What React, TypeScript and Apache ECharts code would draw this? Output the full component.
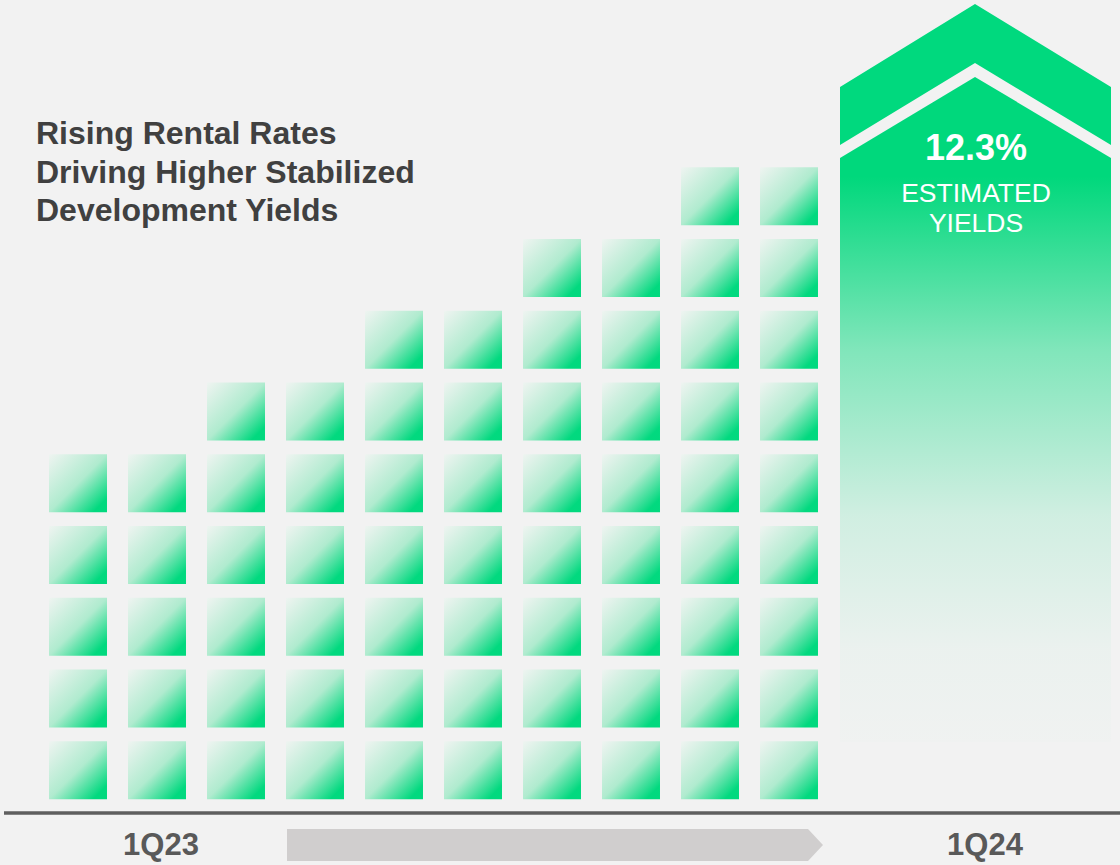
import React, { useEffect, useRef } from "react";
import * as echarts from "echarts";

// ---- data ----
const periods = ["P1", "P2", "P3", "P4", "P5", "P6", "P7", "P8", "P9", "P10"];
const blockCounts = [5, 5, 6, 6, 7, 7, 8, 8, 9, 9];
const startLabel = "1Q23";
const endLabel = "1Q24";
const estimatedYield = "12.3%";
const yieldCaption = ["ESTIMATED", "YIELDS"];
const titleLines = [
  "Rising Rental Rates",
  "Driving Higher Stabilized",
  "Development Yields",
];

const GREEN = "#00d97e";
const FONT = "'Liberation Sans', Arial, Helvetica, sans-serif";

export default function App() {
  const ref = useRef<HTMLDivElement>(null);

  useEffect(() => {
    if (!ref.current) return;
    const chart = echarts.init(ref.current, null, { renderer: "svg" });

    const blockGradient = () =>
      new echarts.graphic.LinearGradient(0, 0, 1, 1, [
        { offset: 0, color: "#eff4f1" },
        { offset: 0.5, color: "#b0ebcf" },
        { offset: 0.88, color: "#02d97f" },
        { offset: 1, color: GREEN },
      ]);

    const bigArrowGradient = new echarts.graphic.LinearGradient(0, 0, 0, 1, [
      { offset: 0, color: "rgba(0,216,124,1)" },
      { offset: 0.15, color: "rgba(0,216,124,1)" },
      { offset: 0.41, color: "rgba(0,216,124,0.47)" },
      { offset: 0.66, color: "rgba(0,216,124,0.14)" },
      { offset: 0.86, color: "rgba(0,216,124,0.03)" },
      { offset: 1, color: "rgba(0,216,124,0.01)" },
    ]);

    const option: any = {
      animation: false,
      backgroundColor: "#f2f2f2",
      grid: { left: 38.5, right: 291.5, top: 95.5, bottom: 52 },
      xAxis: {
        type: "category",
        data: periods,
        show: false,
        boundaryGap: true,
      },
      yAxis: { type: "value", min: 0, max: 10, show: false },
      series: [
        {
          type: "custom",
          data: blockCounts.map((c, i) => [i, c]),
          encode: { x: 0, y: 1 },
          renderItem: (params: any, api: any) => {
            const idx = api.value(0);
            const count = api.value(1);
            const bandW = api.size([1, 0])[0];
            const unitH = api.size([0, 1])[1];
            const w = bandW * 0.734;
            const h = unitH * 0.808;
            const children: any[] = [];
            for (let k = 0; k < count; k++) {
              const p = api.coord([idx, k + 1]);
              children.push({
                type: "rect",
                shape: { x: p[0] - w / 2, y: p[1], width: w, height: h },
                style: { fill: blockGradient() },
              });
            }
            return { type: "group", children };
          },
        },
      ],
      graphic: [
        // title
        ...titleLines.map((t, i) => ({
          type: "text",
          x: 36,
          y: 133 + i * 38.5,
          style: {
            text: t,
            fill: "#404040",
            font: `bold 32px ${FONT}`,
            textAlign: "left",
            textVerticalAlign: "middle",
          },
        })),
        // big arrow chevron
        {
          type: "polygon",
          shape: {
            points: [
              [840, 87],
              [975, 4],
              [1111, 87],
              [1111, 145],
              [975, 63],
              [840, 145],
            ],
          },
          style: { fill: GREEN },
        },
        // big arrow body
        {
          type: "polygon",
          shape: {
            points: [
              [840, 158],
              [975, 77],
              [1111, 158],
              [1111, 742],
              [840, 742],
            ],
          },
          style: { fill: bigArrowGradient },
        },
        {
          type: "text",
          x: 976,
          y: 147,
          style: {
            text: estimatedYield,
            fill: "#ffffff",
            font: `bold 36px ${FONT}`,
            textAlign: "center",
            textVerticalAlign: "middle",
          },
        },
        ...yieldCaption.map((t, i) => ({
          type: "text",
          x: 976,
          y: 193 + i * 30,
          style: {
            text: t,
            fill: "#ffffff",
            font: `26.5px ${FONT}`,
            textAlign: "center",
            textVerticalAlign: "middle",
          },
        })),
        // axis baseline
        {
          type: "line",
          shape: { x1: 4, y1: 813, x2: 1120, y2: 813 },
          style: { stroke: "#5f5f5f", lineWidth: 3.5 },
        },
        // gray timeline arrow
        {
          type: "polygon",
          shape: {
            points: [
              [287, 829],
              [808, 829],
              [823, 845],
              [808, 861],
              [287, 861],
            ],
          },
          style: { fill: "#d0cece" },
        },
        {
          type: "text",
          x: 161,
          y: 844,
          style: {
            text: startLabel,
            fill: "#595959",
            font: `bold 31px ${FONT}`,
            textAlign: "center",
            textVerticalAlign: "middle",
          },
        },
        {
          type: "text",
          x: 985,
          y: 844,
          style: {
            text: endLabel,
            fill: "#595959",
            font: `bold 31px ${FONT}`,
            textAlign: "center",
            textVerticalAlign: "middle",
          },
        },
      ],
    };

    chart.setOption(option);
    return () => chart.dispose();
  }, []);

  return (
    <div
      ref={ref}
      style={{
        position: "absolute",
        left: 0,
        top: 0,
        width: 1120,
        height: 865,
        background: "#f2f2f2",
      }}
    />
  );
}
